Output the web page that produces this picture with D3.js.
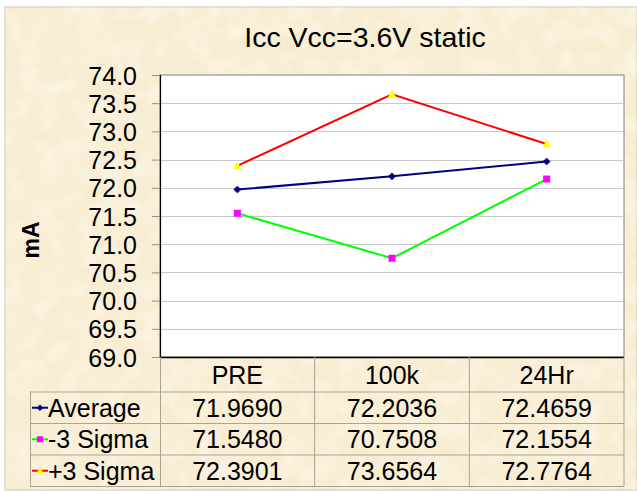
<!DOCTYPE html>
<html><head><meta charset="utf-8">
<script src="https://cdn.jsdelivr.net/npm/d3@7"></script>
<style>
html,body{margin:0;padding:0;background:#fff;}
svg{display:block;font-family:"Liberation Sans",Arial,sans-serif;}
</style></head>
<body>
<svg id="chart" width="637" height="491"></svg>
<script>
const categories = ["PRE", "100k", "24Hr"];
const average = [71.9690, 72.2036, 72.4659];
const minus3 = [71.5480, 70.7508, 72.1554];
const plus3 = [72.3901, 73.6564, 72.7764];
const seriesNames = ["Average", "-3 Sigma", "+3 Sigma"];
const yTicks = [69.0, 69.5, 70.0, 70.5, 71.0, 71.5, 72.0, 72.5, 73.0, 73.5, 74.0];
const title = "Icc Vcc=3.6V static";
const yLabel = "mA";

const series = [
  {name: seriesNames[0], values: average, line: "#000080", marker: "diamond", fill: "#000080"},
  {name: seriesNames[1], values: minus3, line: "#00FF00", marker: "square", fill: "#FF00FF"},
  {name: seriesNames[2], values: plus3, line: "#FF0000", marker: "triangle", fill: "#FFFF00"}
];

const svg = d3.select("#chart");
const W = 637, H = 491;
const FS = "25px";

// background texture
const defs = svg.append("defs");
const f = defs.append("filter").attr("id","paper").attr("x",0).attr("y",0).attr("width","100%").attr("height","100%");
f.append("feTurbulence").attr("type","fractalNoise").attr("baseFrequency","0.05").attr("numOctaves",4).attr("seed",7).attr("result","n");
f.append("feColorMatrix").attr("in","n").attr("type","matrix")
  .attr("values","0 0 0 0 1  0 0 0 0 0.99  0 0 0 0 0.95  0 0 0 -1.6 1.0");

svg.append("rect").attr("x",5).attr("y",7).attr("width",W-5).attr("height",483)
  .attr("fill","#F8EDD2").attr("stroke","#C9C3B5").attr("stroke-width",1);
svg.append("rect").attr("x",5.5).attr("y",7.5).attr("width",W-6).attr("height",482)
  .attr("filter","url(#paper)").attr("opacity",0.55);

// plot area
const pl = 160, pr = 624, pt = 75, pb = 357;
const x = d3.scaleBand().domain(categories).range([pl, pr]).padding(0);
const cx = c => x(c) + x.bandwidth()/2;
const y = d3.scaleLinear().domain([69, 74]).range([pb, pt]);

svg.append("rect").attr("x",pl).attr("y",pt).attr("width",pr-pl).attr("height",pb-pt)
  .attr("fill","#fff").attr("stroke","#808080").attr("stroke-width",1);

// gridlines
svg.append("g").selectAll("line").data(yTicks.filter(t => t > 69 && t < 74)).join("line")
  .attr("x1",pl).attr("x2",pr).attr("y1",d=>Math.round(y(d))+0.5).attr("y2",d=>Math.round(y(d))+0.5)
  .attr("stroke","#C8C8C8").attr("stroke-width",1);

// y axis
const yAxis = d3.axisLeft(y).tickValues(yTicks).tickSize(8).tickPadding(15).tickFormat(d3.format(".1f"));
const gy = svg.append("g").attr("transform",`translate(${pl},0)`).call(yAxis);
gy.select(".domain").remove();
gy.selectAll(".tick line").attr("stroke","#909090");
gy.selectAll(".tick text").attr("font-size",FS).attr("fill","#000")
  .attr("font-family","'Liberation Sans',Arial,sans-serif").attr("dy","0.36em");

// axis lines (black)
svg.append("line").attr("x1",pl+0.5).attr("x2",pl+0.5).attr("y1",pt).attr("y2",pb).attr("stroke","#000").attr("stroke-width",1.2);
svg.append("line").attr("x1",pl).attr("x2",pr).attr("y1",pb+0.5).attr("y2",pb+0.5).attr("stroke","#000").attr("stroke-width",1.5);

// title
svg.append("text").attr("x",365).attr("y",47).attr("text-anchor","middle")
  .attr("font-size","28.5px").attr("fill","#000").text(title);

// y label
svg.append("text").attr("transform","translate(39,240) rotate(-90)").attr("text-anchor","middle")
  .attr("font-size","23px").attr("font-weight","bold").attr("fill","#000").text(yLabel);

// marker drawing
function marker(g, type, fill, size) {
  if (type === "diamond") {
    g.append("path").attr("d", d3.symbol(d3.symbolDiamond2 || d3.symbolDiamond, size*size*0.9)())
      .attr("fill", fill).attr("stroke", fill).attr("stroke-width",0.5);
  } else if (type === "square") {
    g.append("rect").attr("x",-size/2).attr("y",-size/2).attr("width",size).attr("height",size).attr("fill",fill);
  } else {
    g.append("path").attr("d",`M0,${-size*0.55}L${size*0.55},${size*0.45}L${-size*0.55},${size*0.45}Z`).attr("fill",fill);
  }
}

const line = d3.line().x((d,i)=>cx(categories[i])).y(d=>y(d));
series.forEach(s => {
  svg.append("path").attr("d", line(s.values)).attr("fill","none").attr("stroke",s.line).attr("stroke-width",2);
});
series.forEach(s => {
  s.values.forEach((v,i) => {
    const g = svg.append("g").attr("transform",`translate(${cx(categories[i])},${y(v)})`);
    marker(g, s.marker, s.fill, s.marker==="diamond"?6:(s.marker==="square"?7:8));
  });
});

// data table
const tableLeft = 30;
const rowsY = [357, 392, 423.5, 455, 486.5];
const tcol = "#A8A393";
const tg = svg.append("g");
rowsY.slice(1).forEach(ry => tg.append("line").attr("x1",tableLeft).attr("x2",pr).attr("y1",ry).attr("y2",ry).attr("stroke",tcol));
tg.append("line").attr("x1",tableLeft+0.5).attr("x2",tableLeft+0.5).attr("y1",rowsY[1]).attr("y2",rowsY[4]).attr("stroke",tcol);
categories.forEach(c => {
  tg.append("line").attr("x1",x(c)+x.bandwidth()).attr("x2",x(c)+x.bandwidth()).attr("y1",rowsY[0]).attr("y2",rowsY[4]).attr("stroke",tcol);
});
tg.append("line").attr("x1",pl+0.5).attr("x2",pl+0.5).attr("y1",rowsY[0]).attr("y2",rowsY[4]).attr("stroke",tcol);

categories.forEach(c => {
  tg.append("text").attr("x",cx(c)).attr("y",(rowsY[0]+rowsY[1])/2+9).attr("text-anchor","middle")
    .attr("font-size",FS).attr("fill","#000").text(c);
});
const fmt = d3.format(".4f");
series.forEach((s,r) => {
  const ty = (rowsY[r+1]+rowsY[r+2])/2 + 9;
  const kg = tg.append("g").attr("transform",`translate(40,${(rowsY[r+1]+rowsY[r+2])/2})`);
  kg.append("line").attr("x1",-8).attr("x2",8).attr("y1",0).attr("y2",0).attr("stroke",s.line).attr("stroke-width",2);
  marker(kg, s.marker, s.fill, s.marker==="diamond"?5:(s.marker==="square"?6:7));
  tg.append("text").attr("x",48).attr("y",ty).attr("font-size",FS).attr("fill","#000").text(s.name);
  s.values.forEach((v,i) => {
    tg.append("text").attr("x",cx(categories[i])).attr("y",ty).attr("text-anchor","middle")
      .attr("font-size",FS).attr("fill","#000").text(fmt(v));
  });
});
</script>
</body></html>
